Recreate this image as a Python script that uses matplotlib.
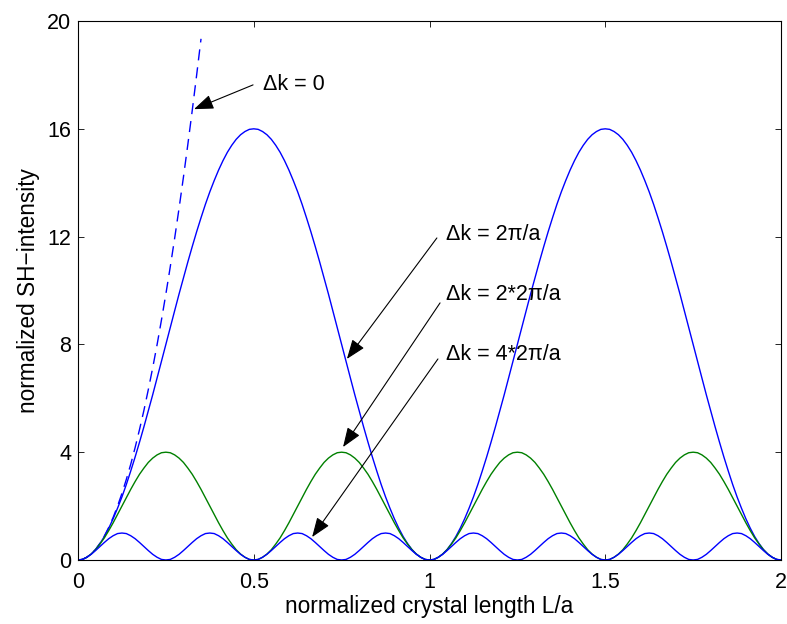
import numpy as np
from matplotlib import pyplot as plt

plt.rcParams['font.family'] = ['Liberation Sans', 'DejaVu Sans']

# sample grid along crystal length, L/a (step 0.0125)
length = np.linspace(0, 2, 161)

# one arch of each curve; the arches repeat identically
# delta k = 2pi/a : arch from L/a = 0 to 1, peak 16
arch1 = [0, 0.02, 0.10, 0.22, 0.39, 0.61, 0.87, 1.18, 1.53, 1.92,
         2.34, 2.80, 3.30, 3.82, 4.37, 4.94, 5.53, 6.13, 6.75, 7.37,
         8.00, 8.63, 9.25, 9.87, 10.47, 11.06, 11.63, 12.18, 12.70, 13.20,
         13.66, 14.08, 14.47, 14.82, 15.13, 15.39, 15.61, 15.78, 15.90, 15.98,
         16.00, 15.98, 15.90, 15.78, 15.61, 15.39, 15.13, 14.82, 14.47, 14.08,
         13.66, 13.20, 12.70, 12.18, 11.63, 11.06, 10.47, 9.87, 9.25, 8.63,
         8.00, 7.37, 6.75, 6.13, 5.53, 4.94, 4.37, 3.82, 3.30, 2.80,
         2.34, 1.92, 1.53, 1.18, 0.87, 0.61, 0.39, 0.22, 0.10, 0.02]
# delta k = 2*2pi/a : arch from 0 to 0.5, peak 4
arch2 = [0, 0.02, 0.10, 0.22, 0.38, 0.59, 0.82, 1.09, 1.38, 1.69,
         2.00, 2.31, 2.62, 2.91, 3.18, 3.41, 3.62, 3.78, 3.90, 3.98,
         4.00, 3.98, 3.90, 3.78, 3.62, 3.41, 3.18, 2.91, 2.62, 2.31,
         2.00, 1.69, 1.38, 1.09, 0.82, 0.59, 0.38, 0.22, 0.10, 0.02]
# delta k = 4*2pi/a : arch from 0 to 0.25, peak 1
arch4 = [0, 0.02, 0.10, 0.21, 0.35, 0.50, 0.65, 0.79, 0.90, 0.98,
         1.00, 0.98, 0.90, 0.79, 0.65, 0.50, 0.35, 0.21, 0.10, 0.02]

dk1 = arch1 * 2 + [0]
dk2 = arch2 * 4 + [0]
dk4 = arch4 * 8 + [0]

# delta k = 0 (phase matched), only shown up to L/a = 0.35
dk0 = [0, 0.02, 0.10, 0.22, 0.39, 0.62, 0.89, 1.21, 1.58, 2.00,
       2.47, 2.99, 3.55, 4.17, 4.84, 5.55, 6.32, 7.13, 7.99, 8.91,
       9.87, 10.88, 11.94, 13.05, 14.21, 15.42, 16.68, 17.99, 19.34]

labels = ['\u0394k = 0', '\u0394k = 2\u03c0/a',
          '\u0394k = 2*2\u03c0/a', '\u0394k = 4*2\u03c0/a']
label_pos = [(0.526, 17.66), (1.047, 12.06), (1.047, 9.87), (1.047, 7.64)]
arrow_from = [(0.498, 17.63), (1.021, 11.95), (1.030, 9.54), (1.024, 7.46)]
arrow_to = [(0.33, 16.73), (0.765, 7.46), (0.754, 4.19), (0.666, 0.85)]

fig = plt.figure(figsize=(7.87, 6.24), dpi=100)
ax = fig.add_axes([0.0991, 0.1026, 0.8933, 0.8637])

ax.plot(length[:len(dk0)], dk0, color='#0000ff', lw=1.0,
        linestyle=(0, (8, 5)))
ax.plot(length, dk1, color='#0000ff', lw=1.0)
ax.plot(length, dk2, color='#008000', lw=1.0)
ax.plot(length, dk4, color='#0000ff', lw=1.0)

for text, pos, start, tip in zip(labels, label_pos, arrow_from, arrow_to):
    ax.text(pos[0], pos[1], text, fontsize=15.5, va='center', ha='left')
    ax.annotate('', xy=tip, xytext=start,
                arrowprops=dict(arrowstyle='-|>,head_length=1.2,head_width=0.45',
                                color='black', lw=0.8, shrinkA=0, shrinkB=0))

ax.set_xlim(0, 2)
ax.set_ylim(0, 20)
ax.set_xticks([0, 0.5, 1, 1.5, 2])
ax.set_xticklabels(['0', '0.5', '1', '1.5', '2'])
ax.set_yticks([0, 4, 8, 12, 16, 20])
ax.tick_params(direction='in', top=True, right=True, length=4.5,
               width=0.6, labelsize=15.5)
ax.tick_params(axis='x', pad=9)
ax.tick_params(axis='y', pad=5)
for spine in ax.spines.values():
    spine.set_linewidth(0.8)
ax.set_xlabel('normalized crystal length L/a', fontsize=16.3, labelpad=1)
ax.set_ylabel('normalized SH\u2212intensity', fontsize=16.3, labelpad=5)

plt.savefig('out.png', dpi=100)
